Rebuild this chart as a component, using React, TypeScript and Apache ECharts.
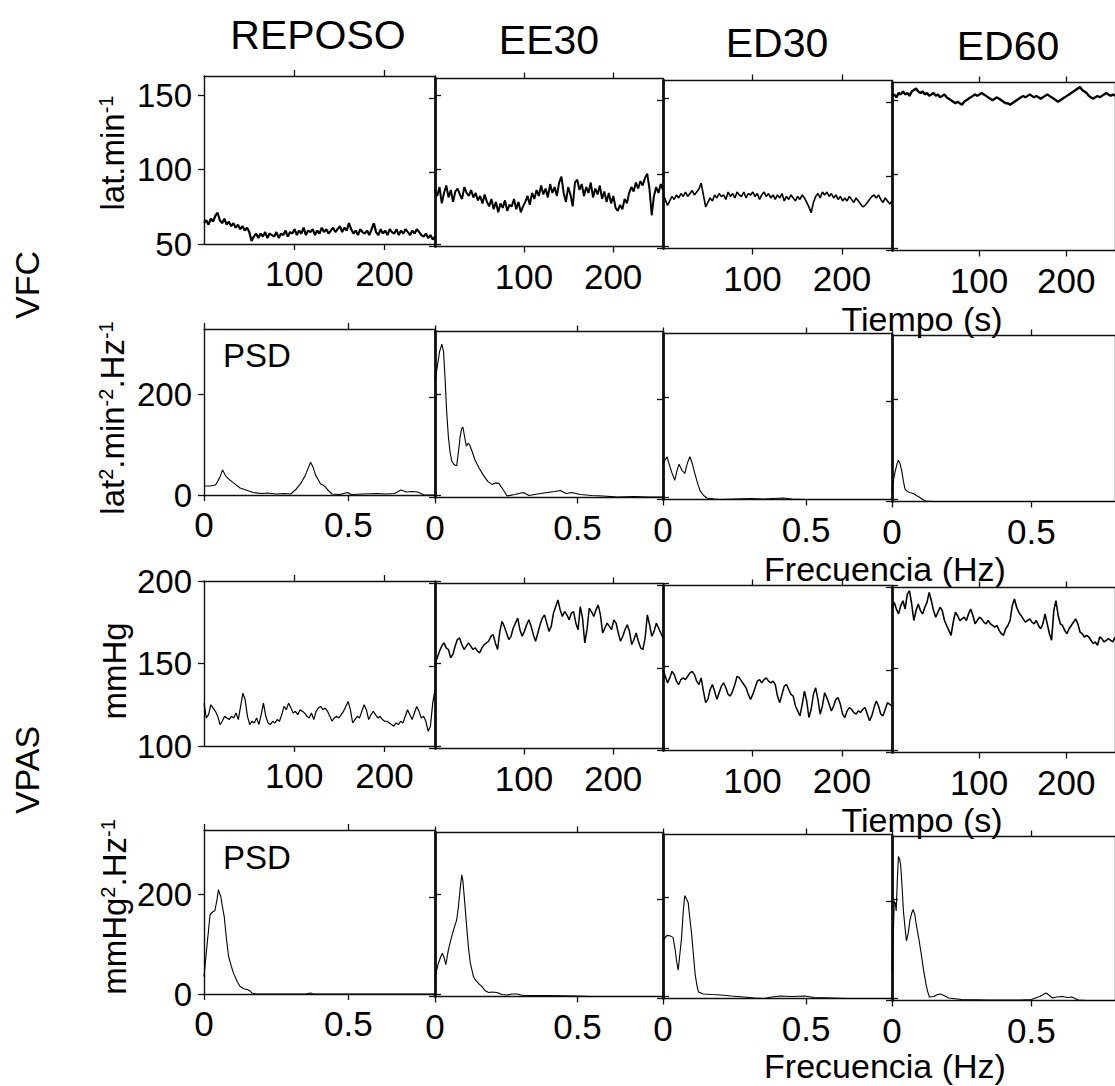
import React, { useEffect, useRef } from 'react';
import * as echarts from 'echarts';

const FONT = '"Liberation Sans", Arial, Helvetica, sans-serif';

const conditions = ['REPOSO', 'EE30', 'ED30', 'ED60'];
const groupLabels = ['VFC', 'VPAS'];

// time axis (s) and frequency axis (Hz)
const timeRange = [0, 256];
const timeTicks = [100, 200];
const freqRange = [0, 0.8];
const freqTicks = [0, 0.5];

// y axes per row
const hrRange = [50, 163];
const hrTicks = [50, 100, 150];
const psdRange = [0, 330];
const psdTicks = [0, 200];
const bpRange = [100, 200];
const bpTicks = [100, 150, 200];

// Heart rate (lat.min-1), uniformly sampled over 0-256 s
const hrReposo = [64, 66, 63, 67, 65, 69, 71, 66, 64, 67, 63, 65, 62, 64, 61, 63, 60, 62, 59, 61, 58, 52, 55, 57, 54, 57, 55, 58, 54, 57, 56, 55, 58, 54, 57, 56, 59, 55, 58, 57, 60, 56, 59, 57, 61, 56, 59, 58, 60, 56, 59, 57, 61, 58, 60, 57, 59, 61, 58, 60, 62, 58, 61, 59, 64, 60, 57, 59, 56, 60, 58, 57, 59, 56, 60, 64, 58, 56, 60, 57, 59, 56, 60, 58, 57, 60, 56, 59, 57, 60, 58, 56, 59, 57, 60, 58, 56, 55, 57, 54, 56, 53, 55];
const hrEE30 = [88, 84, 90, 79, 86, 91, 83, 88, 80, 87, 89, 85, 82, 90, 86, 84, 88, 83, 86, 81, 84, 79, 85, 80, 77, 82, 75, 80, 73, 79, 76, 81, 74, 78, 77, 82, 75, 80, 73, 77, 80, 84, 78, 86, 82, 88, 84, 91, 85, 89, 83, 92, 86, 90, 84, 93, 97, 86, 80, 90, 85, 77, 93, 95, 88, 92, 84, 90, 86, 93, 83, 89, 85, 91, 82, 87, 80, 86, 79, 84, 76, 74, 78, 75, 82, 79, 86, 90, 87, 93, 89, 94, 91, 96, 99, 89, 71, 84, 90, 86, 92, 88];
const hrED30 = [87, 83, 79, 82, 85, 83, 86, 84, 87, 85, 88, 85, 87, 89, 86, 88, 90, 94, 86, 78, 81, 84, 82, 86, 84, 87, 85, 86, 83, 88, 85, 87, 84, 88, 86, 85, 88, 84, 87, 86, 88, 85, 87, 83, 86, 88, 85, 87, 84, 86, 83, 86, 84, 87, 82, 85, 83, 86, 84, 82, 85, 83, 86, 84, 81, 78, 74, 81, 85, 87, 84, 88, 86, 88, 85, 87, 84, 86, 83, 85, 82, 84, 82, 85, 83, 81, 84, 82, 80, 78, 79, 81, 83, 85, 86, 84, 86, 83, 81, 84, 82, 80, 82];
const hrED60 = [154, 155, 153, 156, 155, 157, 155, 156, 154, 157, 158, 159, 157, 156, 157, 155, 156, 154, 155, 156, 154, 155, 153, 154, 155, 153, 152, 151, 150, 149, 150, 149, 148, 150, 151, 152, 153, 154, 155, 154, 155, 156, 155, 154, 153, 152, 151, 152, 153, 152, 151, 150, 149, 149, 148, 149, 150, 151, 152, 153, 154, 153, 154, 155, 154, 153, 154, 153, 152, 153, 154, 155, 154, 153, 152, 151, 150, 151, 152, 153, 154, 155, 156, 157, 158, 159, 160, 158, 157, 156, 154, 153, 152, 153, 154, 153, 154, 155, 156, 155, 154, 155, 154];

// Systolic pressure (mmHg), uniformly sampled over 0-256 s
const bpReposo = [126, 117, 119, 125, 123, 121, 118, 113, 115, 118, 117, 116, 118, 117, 120, 116, 124, 132, 128, 118, 113, 115, 114, 117, 113, 119, 126, 118, 114, 113, 115, 114, 116, 115, 119, 124, 122, 126, 123, 120, 121, 119, 122, 121, 120, 118, 117, 120, 116, 121, 123, 124, 122, 123, 121, 118, 115, 117, 118, 117, 119, 121, 124, 127, 122, 114, 116, 118, 117, 121, 125, 122, 116, 119, 121, 119, 117, 118, 116, 115, 115, 114, 113, 112, 114, 113, 115, 114, 118, 122, 119, 116, 120, 124, 121, 117, 118, 115, 109, 112, 126, 134];
const bpEE30 = [151, 155, 159, 162, 164, 161, 160, 155, 157, 162, 166, 167, 163, 160, 162, 164, 162, 160, 161, 159, 158, 161, 163, 164, 165, 168, 169, 164, 160, 171, 177, 174, 170, 166, 168, 173, 176, 179, 172, 168, 171, 175, 178, 174, 169, 165, 170, 175, 179, 181, 176, 171, 174, 182, 186, 190, 184, 180, 183, 181, 178, 182, 183, 176, 172, 186, 179, 164, 172, 185, 183, 180, 184, 187, 181, 170, 173, 176, 174, 172, 178, 176, 170, 165, 168, 172, 175, 171, 163, 166, 170, 165, 161, 160, 167, 181, 175, 168, 171, 176, 173, 170, 167];
const bpED30 = [149, 145, 141, 144, 148, 146, 142, 140, 143, 144, 143, 145, 147, 148, 146, 142, 140, 144, 136, 129, 131, 137, 140, 136, 131, 135, 139, 141, 138, 134, 133, 136, 140, 145, 144, 142, 140, 138, 134, 131, 134, 138, 142, 143, 141, 143, 144, 142, 141, 142, 140, 133, 129, 134, 139, 140, 137, 134, 133, 127, 124, 121, 128, 136, 130, 120, 125, 134, 138, 131, 122, 127, 135, 132, 128, 124, 127, 131, 132, 128, 122, 120, 124, 126, 125, 123, 122, 124, 123, 125, 126, 122, 118, 121, 126, 130, 127, 122, 121, 125, 129, 128, 127];
const bpED60 = [188, 191, 187, 184, 189, 192, 187, 196, 198, 190, 180, 186, 190, 186, 184, 188, 191, 197, 192, 186, 182, 185, 188, 186, 180, 177, 174, 171, 179, 185, 183, 180, 181, 182, 180, 184, 187, 183, 178, 180, 182, 181, 179, 178, 180, 178, 177, 176, 177, 174, 172, 171, 175, 177, 180, 189, 193, 188, 185, 183, 181, 179, 180, 181, 179, 178, 180, 177, 175, 178, 184, 178, 172, 168, 186, 192, 183, 178, 177, 174, 172, 175, 177, 179, 181, 178, 173, 172, 170, 171, 170, 168, 166, 167, 165, 170, 169, 167, 168, 169, 168, 167, 170];

// PSD of heart rate: [Hz, lat2.min-2.Hz-1]
const psdHrReposo = [[0, 18], [0.02, 18], [0.04, 20], [0.055, 35], [0.064, 50], [0.075, 38], [0.085, 32], [0.1, 25], [0.125, 14], [0.15, 9], [0.17, 5], [0.2, 3], [0.22, 4], [0.25, 2], [0.28, 3], [0.3, 2], [0.32, 12], [0.335, 23], [0.35, 38], [0.362, 55], [0.369, 65], [0.378, 55], [0.386, 40], [0.396, 30], [0.404, 22], [0.412, 20], [0.42, 16], [0.432, 8], [0.444, 2], [0.47, 1], [0.497, 5], [0.51, 1], [0.55, 2], [0.6, 3], [0.63, 2], [0.66, 3], [0.682, 10], [0.7, 6], [0.72, 7], [0.74, 6], [0.763, 0], [0.8, 0]];
const psdHrEE30 = [[0, 230], [0.008, 260], [0.016, 290], [0.024, 305], [0.03, 290], [0.035, 240], [0.041, 170], [0.047, 120], [0.053, 90], [0.059, 72], [0.068, 65], [0.076, 63], [0.082, 90], [0.088, 120], [0.094, 138], [0.098, 140], [0.104, 120], [0.11, 102], [0.116, 108], [0.122, 104], [0.13, 92], [0.14, 75], [0.155, 58], [0.17, 44], [0.185, 32], [0.2, 26], [0.212, 29], [0.224, 28], [0.24, 15], [0.253, 3], [0.28, 6], [0.31, 10], [0.33, 4], [0.36, 7], [0.394, 10], [0.42, 12], [0.44, 14], [0.46, 8], [0.48, 10], [0.51, 6], [0.55, 4], [0.59, 3], [0.64, 1], [0.7, 2], [0.75, 1], [0.8, 1]];
const psdHrED30 = [[0, 72], [0.007, 78], [0.014, 85], [0.022, 70], [0.03, 55], [0.041, 38], [0.05, 60], [0.056, 70], [0.066, 58], [0.076, 52], [0.085, 72], [0.094, 85], [0.102, 72], [0.112, 50], [0.122, 30], [0.13, 17], [0.142, 8], [0.153, 3], [0.18, 1], [0.2, 0], [0.25, 1], [0.306, 2], [0.35, 1], [0.42, 3], [0.45, 1], [0.5, 0], [0.8, 0]];
const psdHrED60 = [[0, 20], [0.006, 45], [0.012, 61], [0.018, 75], [0.023, 82], [0.029, 75], [0.035, 61], [0.041, 40], [0.047, 24], [0.055, 20], [0.064, 18], [0.076, 16], [0.088, 12], [0.1, 8], [0.11, 4], [0.122, 1], [0.15, 0], [0.8, 0]];

// PSD of systolic pressure: [Hz, mmHg2.Hz-1]
const psdBpReposo = [[0, 35], [0.009, 89], [0.021, 160], [0.03, 165], [0.038, 168], [0.045, 190], [0.05, 210], [0.055, 200], [0.058, 197], [0.064, 175], [0.07, 156], [0.078, 110], [0.085, 76], [0.095, 55], [0.102, 42], [0.115, 25], [0.125, 15], [0.14, 10], [0.15, 9], [0.16, 6], [0.166, 2], [0.18, 0], [0.35, 0], [0.369, 2], [0.38, 0], [0.8, 0]];
const psdBpEE30 = [[0, 40], [0.012, 67], [0.02, 80], [0.026, 87], [0.032, 78], [0.038, 64], [0.047, 94], [0.056, 115], [0.065, 134], [0.076, 154], [0.082, 180], [0.088, 215], [0.094, 245], [0.098, 232], [0.102, 205], [0.107, 170], [0.112, 134], [0.118, 95], [0.124, 67], [0.135, 40], [0.141, 34], [0.155, 25], [0.165, 20], [0.175, 12], [0.188, 8], [0.2, 9], [0.218, 8], [0.235, 4], [0.253, 3], [0.27, 5], [0.288, 5], [0.31, 2], [0.4, 2], [0.5, 1], [0.55, 0], [0.8, 0]];
const psdBpED30 = [[0, 117], [0.007, 122], [0.014, 127], [0.025, 126], [0.035, 123], [0.042, 100], [0.047, 77], [0.053, 57], [0.059, 90], [0.065, 123], [0.07, 170], [0.076, 207], [0.082, 200], [0.088, 193], [0.094, 160], [0.1, 130], [0.106, 90], [0.112, 50], [0.118, 28], [0.124, 13], [0.141, 9], [0.17, 8], [0.2, 7], [0.24, 5], [0.282, 3], [0.32, 1], [0.353, 0], [0.38, 3], [0.41, 5], [0.45, 4], [0.494, 5], [0.53, 2], [0.59, 1], [0.65, 0], [0.8, 0]];
const psdBpED60 = [[0, 60], [0.004, 113], [0.008, 200], [0.012, 195], [0.015, 180], [0.019, 240], [0.023, 290], [0.027, 285], [0.031, 273], [0.036, 230], [0.041, 180], [0.047, 145], [0.052, 120], [0.058, 135], [0.064, 160], [0.07, 175], [0.076, 183], [0.082, 172], [0.087, 153], [0.096, 125], [0.105, 93], [0.113, 62], [0.122, 33], [0.128, 18], [0.134, 7], [0.151, 8], [0.163, 12], [0.174, 13], [0.19, 9], [0.203, 5], [0.25, 2], [0.35, 1], [0.46, 1], [0.5, 2], [0.53, 8], [0.552, 15], [0.565, 10], [0.576, 5], [0.59, 7], [0.61, 8], [0.63, 6], [0.645, 7], [0.669, 1], [0.7, 0], [0.8, 0]];

const rowsData = [
  [hrReposo, hrEE30, hrED30, hrED60],
  [psdHrReposo, psdHrEE30, psdHrED30, psdHrED60],
  [bpReposo, bpEE30, bpED30, bpED60],
  [psdBpReposo, psdBpEE30, psdBpED30, psdBpED60],
];
const rowY = [
  { range: hrRange, ticks: hrTicks },
  { range: psdRange, ticks: psdTicks },
  { range: bpRange, ticks: bpTicks },
  { range: psdRange, ticks: psdTicks },
];

// layout (pixels)
const COL_LEFT = [204, 435, 663, 892];
const COL_W = [231, 228, 229, 230];
const COL_DY = [0, 2.5, 4.5, 6.5];
const ROW_TOP = [76, 329, 581, 830];
const ROW_H = [168, 166, 165, 164];
const LINE_W = [
  [2.2, 2.0, 1.6, 2.4],
  [1.1, 1.1, 1.1, 1.1],
  [1.2, 1.5, 1.5, 1.6],
  [1.1, 1.1, 1.1, 1.1],
];

function buildOption() {
  const grid: any[] = [];
  const xAxis: any[] = [];
  const yAxis: any[] = [];
  const series: any[] = [];
  const ink = '#111';
  for (let r = 0; r < 4; r++) {
    for (let c = 0; c < 4; c++) {
      const g = r * 4 + c;
      grid.push({
        left: COL_LEFT[c],
        top: ROW_TOP[r] + COL_DY[c],
        width: COL_W[c],
        height: ROW_H[r],
        show: false,
      });
      const isTime = r % 2 === 0;
      const xr = isTime ? timeRange : freqRange;
      const xt = isTime ? timeTicks : freqTicks;
      const yr = rowY[r];
      const baseX = {
        type: 'value',
        gridIndex: g,
        min: xr[0],
        max: xr[1],
        splitLine: { show: false },
        axisLine: { show: true, onZero: false, lineStyle: { color: ink, width: 1.4 } },
        axisTick: { show: true, inside: false, length: 6, customValues: xt, lineStyle: { color: ink, width: 1.3 } },
      };
      xAxis.push({
        ...baseX,
        position: 'bottom',
        axisLabel: {
          show: true,
          customValues: xt,
          fontSize: 35,
          fontFamily: FONT,
          color: '#000',
          margin: 12,
        },
      });
      xAxis.push({ ...baseX, position: 'top', axisLabel: { show: false } });
      const baseY = {
        type: 'value',
        gridIndex: g,
        min: yr.range[0],
        max: yr.range[1],
        splitLine: { show: false },
        axisTick: { show: true, inside: false, length: 6, customValues: yr.ticks, lineStyle: { color: ink, width: 1.3 } },
      };
      yAxis.push({
        ...baseY,
        position: 'left',
        axisLine: { show: true, onZero: false, lineStyle: { color: ink, width: c === 0 ? 1.4 : 2.8 } },
        axisLabel: {
          show: c === 0,
          customValues: yr.ticks,
          fontSize: 33,
          fontFamily: FONT,
          color: '#000',
          margin: 12,
        },
      });
      yAxis.push({
        ...baseY,
        position: 'right',
        axisLine: { show: true, onZero: false, lineStyle: { color: ink, width: 1.4 } },
        axisLabel: { show: false },
      });
      const raw: any = rowsData[r][c];
      const data = isTime
        ? (raw as number[]).map((v, i) => [(i * timeRange[1]) / (raw.length - 1), v])
        : raw;
      series.push({
        type: 'line',
        xAxisIndex: 2 * g,
        yAxisIndex: 2 * g,
        data,
        showSymbol: false,
        symbol: 'none',
        silent: true,
        clip: true,
        lineStyle: { color: '#000', width: LINE_W[r][c] },
      });
    }
  }

  const txt = (text: string, x: number, y: number, size: number, extra: any = {}) => ({
    type: 'text',
    x,
    y,
    silent: true,
    ...extra,
    style: {
      text,
      fontSize: size,
      fontFamily: FONT,
      fill: '#000',
      align: 'center',
      verticalAlign: 'middle',
      ...(extra.style || {}),
    },
  });
  const supRich = (main: number, sup: number) => ({
    m: { fontSize: main, fontFamily: FONT, fill: '#000', lineHeight: main },
    s: { fontSize: sup, fontFamily: FONT, fill: '#000', lineHeight: sup, verticalAlign: 'top' },
  });
  const rot = Math.PI / 2;
  const titleX = [318, 549, 777, 1008];
  const titleY = [35, 40, 43, 46];

  const graphic: any[] = [];
  conditions.forEach((t, i) => graphic.push(txt(t, titleX[i], titleY[i], 41)));
  graphic.push(txt(groupLabels[0], 27, 285, 34, { rotation: rot }));
  graphic.push(txt(groupLabels[1], 27, 770, 34, { rotation: rot }));
  graphic.push({
    type: 'text', x: 112, y: 153, rotation: rot, silent: true,
    style: { text: '{m|lat.min}{s|-1}', rich: supRich(33, 20), align: 'center', verticalAlign: 'middle', fill: '#000' },
  });
  graphic.push({
    type: 'text', x: 112, y: 418, rotation: rot, silent: true,
    style: { text: '{m|lat}{s|2}{m|.min}{s|-2}{m|.Hz}{s|-1}', rich: supRich(33, 20), align: 'center', verticalAlign: 'middle', fill: '#000' },
  });
  graphic.push({
    type: 'text', x: 114, y: 671, rotation: rot, silent: true,
    style: { text: '{m|mmHg}', rich: supRich(33, 20), align: 'center', verticalAlign: 'middle', fill: '#000' },
  });
  graphic.push({
    type: 'text', x: 114, y: 907, rotation: rot, silent: true,
    style: { text: '{m|mmHg}{s|2}{m|.Hz}{s|-1}', rich: supRich(33, 20), align: 'center', verticalAlign: 'middle', fill: '#000' },
  });
  graphic.push(txt('Tiempo (s)', 922, 319, 34));
  graphic.push(txt('Frecuencia (Hz)', 885, 569, 34));
  graphic.push(txt('Tiempo (s)', 922, 820, 34));
  graphic.push(txt('Frecuencia (Hz)', 885, 1066, 34));
  graphic.push(txt('PSD', 223, 355, 33, { style: { align: 'left' } }));
  graphic.push(txt('PSD', 223, 857, 33, { style: { align: 'left' } }));

  return {
    animation: false,
    backgroundColor: '#fff',
    grid,
    xAxis,
    yAxis,
    series,
    graphic,
  };
}

export default function App() {
  const ref = useRef<HTMLDivElement>(null);
  useEffect(() => {
    if (!ref.current) return;
    const chart = echarts.init(ref.current, undefined, { renderer: 'svg' });
    chart.setOption(buildOption() as any);
    return () => chart.dispose();
  }, []);
  return (
    <div
      ref={ref}
      style={{ position: 'fixed', left: 0, top: 0, width: 1115, height: 1086, background: '#fff' }}
    />
  );
}
